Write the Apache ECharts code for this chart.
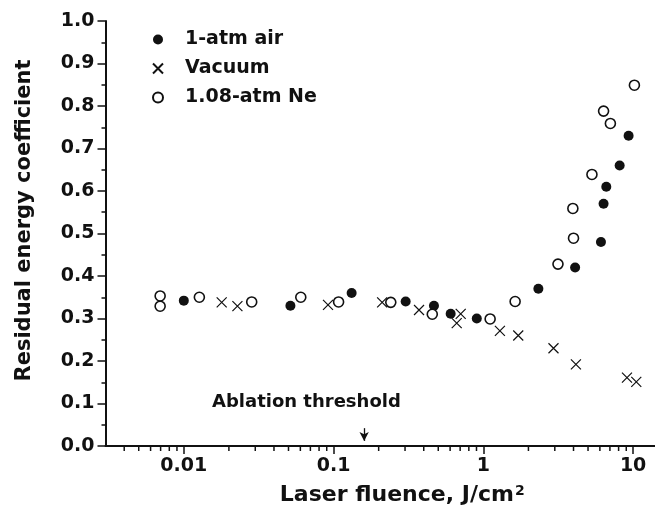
<!DOCTYPE html>
<html>
<head>
<meta charset="utf-8">
<script src="https://cdn.jsdelivr.net/npm/echarts@6/dist/echarts.min.js"></script>
<style>
  html, body { margin: 0; padding: 0; background: #fff; }
  #chart { width: 655px; height: 518px; }
</style>
</head>
<body>
<div id="chart"></div>
<script>
// fluence (J/cm2) and residual energy coefficient
const airX = [0.01, 0.0515, 0.132, 0.303, 0.468, 0.605, 0.904, 2.33, 4.10, 6.10, 6.35, 6.62, 8.13, 9.33];
const airY = [0.342, 0.33, 0.36, 0.34, 0.33, 0.311, 0.30, 0.37, 0.42, 0.48, 0.57, 0.61, 0.66, 0.73];

const vacX = [0.0179, 0.0228, 0.0918, 0.211, 0.372, 0.664, 0.706, 1.29, 1.71, 2.94, 4.15, 9.1, 10.5];
const vacY = [0.338, 0.329, 0.332, 0.338, 0.32, 0.289, 0.311, 0.271, 0.26, 0.23, 0.192, 0.161, 0.151];

const neX = [0.00695, 0.00695, 0.0127, 0.0284, 0.0604, 0.108, 0.241, 0.456, 1.11, 1.63, 3.15, 3.96, 4.0, 5.31, 6.35, 7.05, 10.2];
const neY = [0.353, 0.329, 0.35, 0.339, 0.35, 0.339, 0.338, 0.31, 0.299, 0.34, 0.428, 0.559, 0.489, 0.639, 0.788, 0.759, 0.849];

// log-axis minor ticks (2..9 of each decade)
const minorTicks = [
  0.004, 0.005, 0.006, 0.007, 0.008, 0.009,
  0.02, 0.03, 0.04, 0.05, 0.06, 0.07, 0.08, 0.09,
  0.2, 0.3, 0.4, 0.5, 0.6, 0.7, 0.8, 0.9,
  2, 3, 4, 5, 6, 7, 8, 9
];

const thresholdX = 0.16;
const thresholdArrow = [0.042, 0.012];

const font = 'DejaVu Sans';
const ink = '#111';

const zip = (xs, ys) => xs.map((x, i) => [x, ys[i]]);

const chart = echarts.init(document.getElementById('chart'));

chart.setOption({
  animation: false,
  textStyle: { fontFamily: font },
  grid: { left: 105.5, right: 0, top: 21, bottom: 72, containLabel: false },
  legend: {
    data: ['1-atm air', 'Vacuum', '1.08-atm Ne'],
    orient: 'vertical',
    left: 147,
    top: 25,
    itemWidth: 10,
    itemHeight: 10,
    itemGap: 10,
    selectedMode: false,
    textStyle: {
      fontFamily: font, fontWeight: 'bold', fontSize: 19, color: ink,
      lineHeight: 19, padding: [0, 0, 0, 17]
    }
  },
  xAxis: {
    type: 'log',
    logBase: 10,
    min: 0.003,
    max: 14,
    name: 'Laser fluence, J/cm{sup|2}',
    nameLocation: 'middle',
    nameGap: 38,
    nameTextStyle: {
      fontFamily: font, fontWeight: 'bold', fontSize: 22, color: ink,
      padding: [0, 0, 0, 44],
      rich: {
        sup: { fontFamily: font, fontWeight: 'bold', fontSize: 14, color: ink, verticalAlign: 'top', padding: [0, 0, 8, 1] }
      }
    },
    axisLine: { lineStyle: { color: ink, width: 2 } },
    axisTick: { inside: false, length: 8, lineStyle: { color: ink, width: 1.5 } },
    minorTick: { show: false },
    splitLine: { show: false },
    axisLabel: {
      fontFamily: font, fontWeight: 'bold', fontSize: 19, color: ink, margin: 11,
      showMinLabel: false, showMaxLabel: false,
      formatter: (v) => {
        const l = Math.log10(v);
        if (Math.abs(l - Math.round(l)) > 1e-6) return '';
        return String(+Math.pow(10, Math.round(l)).toPrecision(3));
      }
    }
  },
  yAxis: {
    type: 'value',
    min: 0,
    max: 1,
    interval: 0.1,
    name: 'Residual energy coefficient',
    nameLocation: 'middle',
    nameGap: 70,
    nameTextStyle: {
      fontFamily: font, fontWeight: 'bold', fontSize: 21, color: ink,
      padding: [0, 0, 0, 26]
    },
    axisLine: { show: true, lineStyle: { color: ink, width: 2 } },
    axisTick: { show: true, inside: false, length: 8, lineStyle: { color: ink, width: 1.5 } },
    minorTick: { show: true, splitNumber: 2, length: 4, lineStyle: { color: ink, width: 1.5 } },
    splitLine: { show: false },
    axisLabel: {
      fontFamily: font, fontWeight: 'bold', fontSize: 19, color: ink, margin: 11,
      formatter: (v) => v.toFixed(1)
    }
  },
  series: [
    {
      name: '1-atm air',
      type: 'scatter',
      data: zip(airX, airY),
      symbol: 'circle',
      symbolSize: 10,
      itemStyle: { color: ink, opacity: 1 },
      emphasis: { disabled: true },
      z: 3
    },
    {
      name: 'Vacuum',
      type: 'scatter',
      data: zip(vacX, vacY),
      symbol: 'path://M0,0L10,10M10,0L0,10',
      symbolSize: 10,
      itemStyle: { color: ink, borderColor: ink, borderWidth: 1.2, opacity: 1 },
      emphasis: { disabled: true },
      z: 3,
      markLine: {
        silent: true,
        symbol: ['none', 'arrow'],
        symbolSize: [7, 9],
        label: { show: false },
        lineStyle: { color: ink, width: 1.3, type: 'solid' },
        data: [[
          { coord: [thresholdX, thresholdArrow[0]] },
          { coord: [thresholdX, thresholdArrow[1]] }
        ]]
      }
    },
    {
      name: '1.08-atm Ne',
      type: 'scatter',
      data: zip(neX, neY),
      symbol: 'circle',
      symbolSize: 10,
      itemStyle: { color: '#fff', borderColor: ink, borderWidth: 1.6, opacity: 1 },
      emphasis: { disabled: true },
      z: 4
    },
    {
      name: 'minor',
      type: 'custom',
      silent: true,
      clip: false,
      data: minorTicks.map((v) => [v, 0]),
      renderItem: (params, api) => {
        const p = api.coord([api.value(0), 0]);
        return {
          type: 'line',
          shape: { x1: p[0], y1: p[1], x2: p[0], y2: p[1] + 5 },
          style: { stroke: ink, lineWidth: 1.5 }
        };
      },
      z: 5
    }
  ],
  graphic: [
    {
      type: 'text',
      left: 212,
      top: 393,
      style: {
        text: 'Ablation threshold',
        fontFamily: font, fontWeight: 'bold', fontSize: 18, fill: ink
      }
    }
  ]
});
</script>
</body>
</html>
